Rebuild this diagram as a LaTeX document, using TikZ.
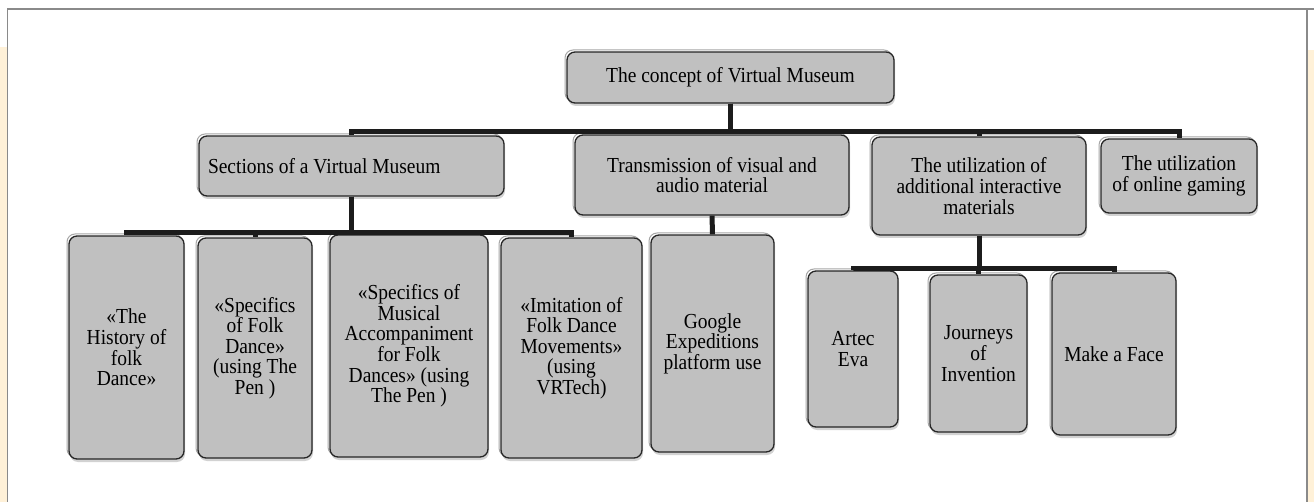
\documentclass[tikz,border=0pt]{standalone}
\usepackage{fontspec}
\setmainfont{Liberation Serif}[FakeStretch=0.91]
\usetikzlibrary{shadows}
\definecolor{boxgray}{HTML}{C0C0C0}
\definecolor{cream}{HTML}{FFF1D8}
\definecolor{framegray}{HTML}{8A8A8A}
\definecolor{busblack}{HTML}{1C1C1C}
\tikzset{
  box/.style={draw=black!85, line width=1.3pt, fill=boxgray, rounded corners=8pt,
    inner sep=0pt, align=center,
    font=\fontsize{21.4}{20.6}\selectfont,
    drop shadow={shadow xshift=1pt, shadow yshift=-3pt, opacity=0.35, fill=gray},
    preaction={draw=gray!70, line width=1pt, rounded corners=8pt,
      transform canvas={xshift=-2pt, yshift=2pt}}},
  bus/.style={draw=busblack, line width=5pt},
  framel/.style={draw=framegray, line width=1.5pt}
}
\begin{document}
\begin{tikzpicture}[x=1pt, y=-1pt]
\useasboundingbox (0,0) rectangle (1314,502);
\fill[white] (0,0) rectangle (1314,502);
% side bands and frame
\fill[cream] (0,47) rectangle (7,502);
\fill[cream] (1308,50) rectangle (1314,502);
\draw[framel] (7.5,502) -- (7.5,9) -- (1314,9);
\draw[framel] (1307,9) -- (1307,502);

% nodes
\node[box, minimum width=327pt, minimum height=51pt] (top) at (730.5,77.5) {The concept of Virtual Museum};
\node[box, minimum width=305pt, minimum height=60pt, align=flush left, text width=287pt] (sec) at (351.5,166) {Sections of a Virtual Museum};
\node[box, minimum width=274pt, minimum height=80pt] (trans) at (712,175) {Transmission of visual and\\audio material};
\node[box, minimum width=214pt, minimum height=98pt] (util) at (979,186) {The utilization of\\additional interactive\\materials};
\node[box, minimum width=156pt, minimum height=74pt] (game) at (1179,176) {The utilization\\of online gaming};

\node[box, minimum width=115pt, minimum height=223pt] (b1) at (126.5,347.5) {«The\\History of\\folk\\Dance»};
\node[box, minimum width=114pt, minimum height=220pt] (b2) at (255,348) {«Specifics\\of Folk\\Dance»\\(using The\\Pen )};
\node[box, minimum width=158pt, minimum height=222pt] (b3) at (409,346) {«Specifics of\\Musical\\Accompaniment\\for Folk\\Dances» (using\\The Pen )};
\node[box, minimum width=141pt, minimum height=220pt] (b4) at (571.5,348) {«Imitation of\\Folk Dance\\Movements»\\(using\\VRTech)};
\node[box, minimum width=123pt, minimum height=217pt] (google) at (712.5,343.5) {Google\\Expeditions\\platform use};
\node[box, minimum width=90pt, minimum height=156pt] (artec) at (853,349) {Artec\\Eva};
\node[box, minimum width=97pt, minimum height=157pt] (journ) at (978.5,353.5) {Journeys\\of\\Invention};
\node[box, minimum width=124pt, minimum height=162pt] (face) at (1114,354) {Make a Face};

% connectors
\foreach \c in {sec,trans,util,game}
  \draw[bus] (top.south) -- ++(0,28) -| (\c.north);
\foreach \c in {b1,b2,b3,b4}
  \draw[bus] (sec.south) -- ++(0,36) -| (\c.north);
\draw[bus] (trans.south) -- (google.north);
\foreach \c in {artec,journ,face}
  \draw[bus] (util.south) -- ++(0,33) -| (\c.north);
\end{tikzpicture}
\end{document}
